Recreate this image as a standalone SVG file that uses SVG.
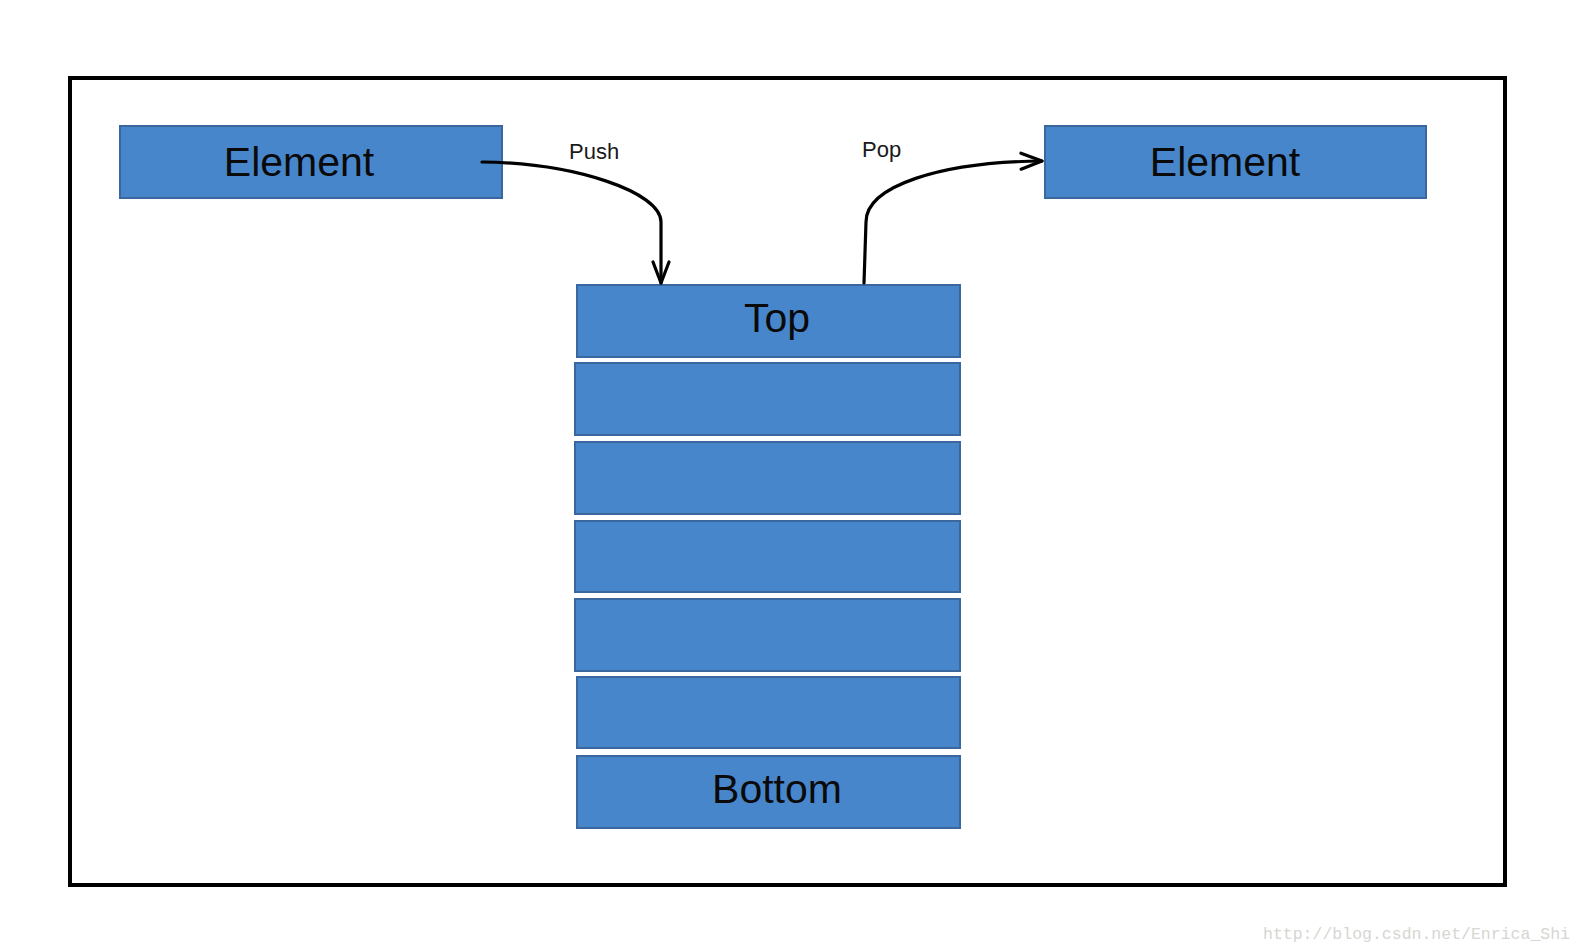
<svg xmlns="http://www.w3.org/2000/svg" width="1584" height="952" viewBox="0 0 1584 952">
<style>
.box{fill:#4886CC;stroke:#3A679E;stroke-width:2}
.big{font-family:"Liberation Sans",Arial,sans-serif;font-size:41px;fill:#0a0a0a;text-anchor:middle}
.lbl{font-family:"Liberation Sans",Arial,sans-serif;font-size:22px;fill:#1a1a1a}
.conn{fill:none;stroke:#000;stroke-width:3.2;stroke-linecap:round;stroke-linejoin:round}
</style>
<defs>
<marker id="arr" markerUnits="userSpaceOnUse" markerWidth="30" markerHeight="30" refX="0" refY="0" orient="auto" overflow="visible" viewBox="-25 -12 30 24">
<path d="M-21,-8 L0,0 L-21,8" fill="none" stroke="#000" stroke-width="3.2" stroke-linecap="round" stroke-linejoin="round"/>
</marker>
</defs>
<rect width="1584" height="952" fill="#fff"/>
<rect id="frame" x="70" y="78" width="1435" height="807" fill="none" stroke="#000" stroke-width="4"/>
<g id="element-left"><rect class="box" x="120" y="126" width="382" height="72"/><text class="big" x="299" y="176">Element</text></g>
<g id="element-right"><rect class="box" x="1045" y="126" width="381" height="72"/><text class="big" x="1225" y="176">Element</text></g>
<g id="stack-top"><rect class="box" x="577" y="285" width="383" height="72"/><text class="big" x="777" y="332">Top</text></g>
<g id="stack-2"><rect class="box" x="575" y="363" width="385" height="72"/></g>
<g id="stack-3"><rect class="box" x="575" y="442" width="385" height="72"/></g>
<g id="stack-4"><rect class="box" x="575" y="521" width="385" height="71"/></g>
<g id="stack-5"><rect class="box" x="575" y="599" width="385" height="72"/></g>
<g id="stack-6"><rect class="box" x="577" y="677" width="383" height="71"/></g>
<g id="stack-bottom"><rect class="box" x="577" y="756" width="383" height="72"/><text class="big" x="777" y="803">Bottom</text></g>
<g id="connectors">
<path class="conn" d="M482,162 C575,163 661,192 661,222 L661,283" marker-end="url(#arr)"/>
<text class="lbl" x="569" y="159">Push</text>
<path class="conn" d="M864,283 L866,222 C866,186 940,162 1042,161" marker-end="url(#arr)"/>
<text class="lbl" x="862" y="157">Pop</text>
</g>
<text x="1263" y="939" font-family="'Liberation Mono',monospace" font-size="17" fill="#d6d6d2" textLength="307" lengthAdjust="spacingAndGlyphs">http://blog.csdn.net/Enrica_Shi</text>
</svg>
